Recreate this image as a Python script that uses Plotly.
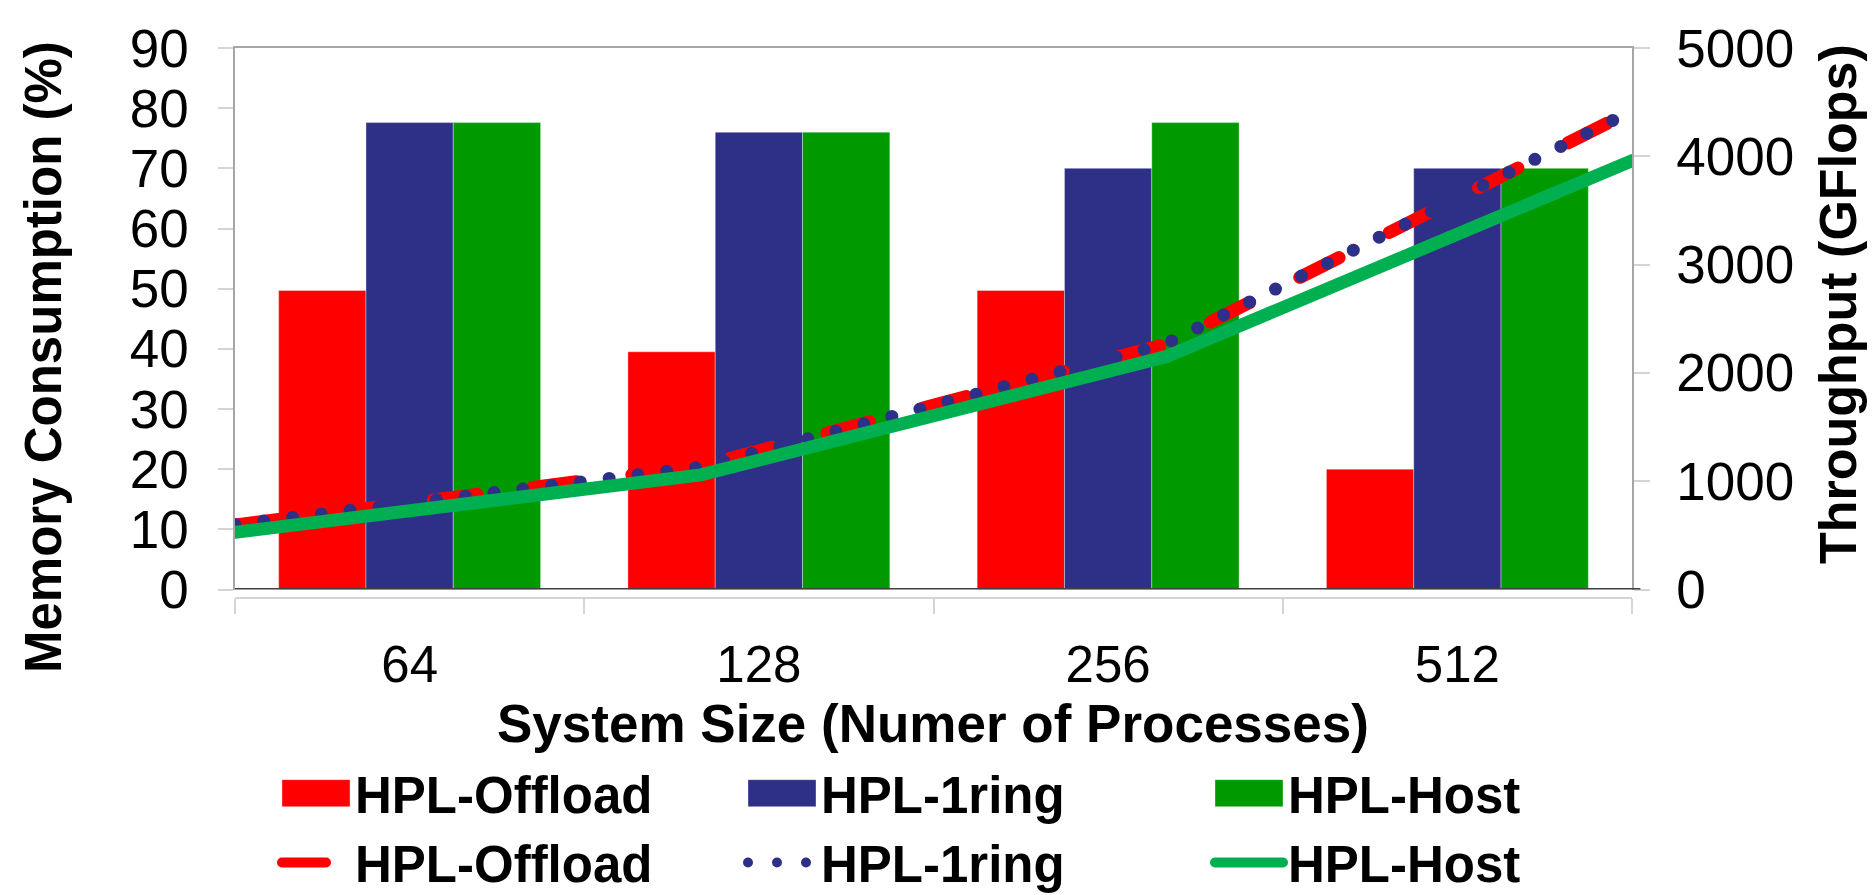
import plotly.graph_objects as go

# System sizes (number of processes)
sizes = ["64", "128", "256", "512"]

# Memory consumption (%) per configuration
mem_offload = [49.7, 39.5, 49.7, 20.0]
mem_1ring = [77.6, 76.0, 70.0, 70.0]
mem_host = [77.6, 76.0, 77.6, 70.0]

# Throughput (GFlops) per configuration
tp_offload = [595, 1140, 2265, 4420]
tp_1ring = [600, 1130, 2270, 4420]
tp_host = [528, 1058, 2150, 3960]

series_names = ["HPL-Offload", "HPL-1ring", "HPL-Host"]

RED = "#FF0000"
BLUE = "#2E3088"
GREEN_BAR = "#009900"
GREEN_LINE = "#00B050"
FONT = "Liberation Sans, Arial, sans-serif"
YTICK_SIZE = 53
XTICK_SIZE = 51
TITLE_SIZE = 51
LEGEND_SIZE = 51

fig = go.Figure()

bar_line = dict(width=1, color="rgba(255,255,255,0.35)")
for vals, color, name, lg in [
    (mem_offload, RED, series_names[0], "legend"),
    (mem_1ring, BLUE, series_names[1], "legend2"),
    (mem_host, GREEN_BAR, series_names[2], "legend3"),
]:
    fig.add_trace(go.Bar(
        x=sizes, y=vals, name=name, legend=lg,
        marker=dict(color=color, line=bar_line),
        xaxis="x", yaxis="y",
    ))

fig.add_trace(go.Scatter(
    x=sizes, y=tp_offload, name=series_names[0], legend="legend",
    mode="lines", line=dict(color=RED, width=13, dash="44px,56px"),
    xaxis="x2", yaxis="y2",
))
fig.add_trace(go.Scatter(
    x=sizes, y=tp_1ring, name=series_names[1], legend="legend2",
    mode="lines", line=dict(color=BLUE, width=13, dash="0px,29px"),
    xaxis="x2", yaxis="y2",
))
fig.add_trace(go.Scatter(
    x=sizes, y=tp_host, name=series_names[2], legend="legend3",
    mode="lines", line=dict(color=GREEN_LINE, width=13),
    xaxis="x2", yaxis="y2",
))

# plot-area geometry (pixels)
W, H = 1874, 895
ML, MR, MT, MB = 235, 242, 48, 297
PW = W - ML - MR
PH = H - MT - MB
base_px = 589.5          # y of the zero baseline
cat_axis_px = H - MB     # y of the category axis line
y_dom0 = (cat_axis_px - base_px) / PH


def px_x(px):
    return (px - ML) / PW


def px_y(py):
    return (H - MB - py) / PH


axis_gray = "#A6A6A6"
tick_gray = "#D4D4D4"

legend_common = dict(
    orientation="v", xanchor="left", yanchor="middle",
    font=dict(family=FONT, size=LEGEND_SIZE, color="black", weight="bold"),
    itemwidth=68, bgcolor="rgba(0,0,0,0)", tracegroupgap=0,
)
leg_mid = px_y(828)

fig.update_layout(
    width=W, height=H,
    margin=dict(l=ML, r=MR, t=MT, b=MB, pad=0, autoexpand=False),
    paper_bgcolor="white", plot_bgcolor="white",
    font=dict(family=FONT, color="black"),
    barmode="group", bargap=0.25, bargroupgap=0,
    xaxis=dict(
        type="category", anchor="free", position=0,
        showline=True, linecolor=tick_gray, linewidth=2,
        ticks="outside", tickson="boundaries", ticklen=15, tickcolor=tick_gray, tickwidth=1.5,
        tickfont=dict(size=XTICK_SIZE, family=FONT, color="black"),
        ticklabelstandoff=22,
        showgrid=False, zeroline=False, fixedrange=True,
    ),
    xaxis2=dict(
        type="category", overlaying="x", anchor="y", side="top",
        range=[0, 3], showline=True, linecolor=axis_gray, linewidth=1.5,
        ticks="", showticklabels=False, showgrid=False, zeroline=False,
    ),
    yaxis=dict(
        domain=[y_dom0, 1], range=[0, 90], dtick=10,
        showline=True, linecolor=axis_gray, linewidth=1.5,
        ticks="outside", ticklen=15, tickcolor=tick_gray, tickwidth=1.5,
        tickfont=dict(size=YTICK_SIZE, family=FONT, color="black"),
        ticklabelstandoff=19,
        showgrid=False, zeroline=False,
    ),
    yaxis2=dict(
        overlaying="y", side="right", anchor="x", range=[0, 5000], dtick=1000,
        showline=True, linecolor=axis_gray, linewidth=1.5,
        ticks="outside", ticklen=16, tickcolor=tick_gray, tickwidth=1.5,
        tickfont=dict(size=YTICK_SIZE, family=FONT, color="black"),
        ticklabelstandoff=16,
        showgrid=False, zeroline=False,
    ),
    legend=dict(x=px_x(277), y=leg_mid, **legend_common),
    legend2=dict(x=px_x(743), y=leg_mid, **legend_common),
    legend3=dict(x=px_x(1210), y=leg_mid, **legend_common),
    showlegend=True,
)

# dark baseline at zero
fig.add_shape(type="line", xref="x domain", yref="y", x0=0, x1=1.006, y0=0, y1=0,
              line=dict(color="#404040", width=3), layer="above")

# axis titles
title_font = dict(family=FONT, size=TITLE_SIZE, color="black", weight="bold")
fig.add_annotation(text="Memory Consumption (%)", xref="paper", yref="paper",
                   x=px_x(43), y=px_y(357), textangle=-90, showarrow=False,
                   xanchor="center", yanchor="middle", font=title_font)
fig.add_annotation(text="Throughput (GFlops)", xref="paper", yref="paper",
                   x=px_x(1838), y=px_y(304), textangle=-90, showarrow=False,
                   xanchor="center", yanchor="middle",
                   font=dict(family=FONT, size=52, color="black", weight="bold"))
fig.add_annotation(text="System Size (Numer of Processes)", xref="paper", yref="paper",
                   x=px_x(933), y=px_y(723), showarrow=False,
                   xanchor="center", yanchor="middle",
                   font=dict(family=FONT, size=53, color="black", weight="bold"))

# round line caps for dashes/dots, and wider bar swatches in the legends
post = """
var gd = document.getElementById('{plot_id}');
gd.querySelectorAll('.scatterlayer .js-line, .legendlines .js-line').forEach(function(p){
  p.style.strokeLinecap = 'round';
});
gd.querySelectorAll('g.legendpoints path').forEach(function(p){
  p.setAttribute('d', 'M34,13.5H-34V-13.5H34Z');
});
"""

fig.write_html("out.html", config={"displayModeBar": False, "responsive": False},
               post_script=post)
